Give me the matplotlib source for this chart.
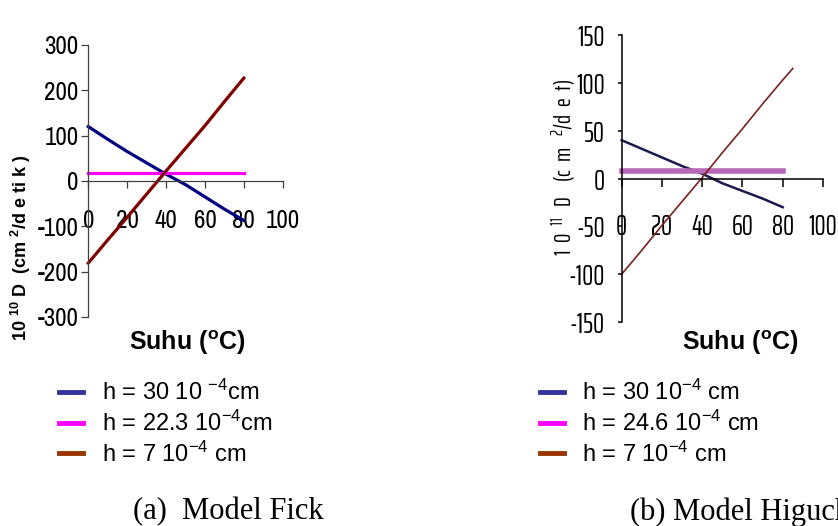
import matplotlib
matplotlib.use("Agg")
import matplotlib.pyplot as plt
from matplotlib.lines import Line2D

plt.rcParams['font.family'] = ['Liberation Sans', 'DejaVu Sans']
plt.rcParams['mathtext.fontset'] = 'custom'
plt.rcParams['mathtext.rm'] = 'Liberation Sans'
plt.rcParams['mathtext.bf'] = 'Liberation Sans:bold'
plt.rcParams['mathtext.default'] = 'regular'
plt.rcParams['axes.unicode_minus'] = False

# (a) Model Fick
suhu_a = [0, 10, 20, 30, 40, 50, 60, 70, 80]
fick_h30 = [120, 92, 65, 40, 15, -8, -35, -62, -87]
fick_h223 = [17, 17, 17, 17, 17, 17, 17, 17, 17]
fick_h7 = [-181, -130, -80, -29, 22, 72, 122, 175, 227]
labels_a = ["h = 30 10 $^{-4}$cm", "h = 22.3 10$^{-4}$cm", "h = 7 10$^{-4}$ cm"]

# (b) Model Higuchi
suhu_b = [0, 10, 20, 30, 40, 50, 60, 70, 80]
hig_h30 = [40, 31, 22, 13, 5, -5, -13, -21, -30]
hig_h246 = [8, 8, 8, 8, 8, 8, 8, 8, 8]
suhu_b7 = [0, 10, 20, 30, 40, 50, 60, 70, 80, 85]
hig_h7 = [-100, -75, -49, -24, 1, 27, 52, 78, 103, 115]
labels_b = ["h = 30 10$^{-4}$ cm", "h = 24.6 10$^{-4}$ cm", "h = 7 10$^{-4}$ cm"]

xticks = [0, 20, 40, 60, 80, 100]
yticks_a = [-300, -200, -100, 0, 100, 200, 300]
yticks_b = [-150, -100, -50, 0, 50, 100, 150]

W, H = 838, 526
fig = plt.figure(figsize=(W / 100, H / 100), dpi=100)


def px(x, y):
    return x / W, 1 - y / H


narrow = ['Archivo Narrow', 'PT Sans Narrow', 'DejaVu Sans']
squeezed = ['Saira ExtraCondensed', 'Stint Ultra Condensed', 'DejaVu Sans']


def style_axes(ax, ylim, yticks, tick_font, xpad, ylen, ypad, xlen, spine_col, spine_w):
    ax.set_xlim(0, 100)
    ax.set_ylim(*ylim)
    ax.set_xticks(xticks)
    ax.set_yticks(yticks)
    for s in ['top', 'right']:
        ax.spines[s].set_visible(False)
    ax.spines['bottom'].set_position(('data', 0))
    for s in ['left', 'bottom']:
        ax.spines[s].set_color(spine_col)
        ax.spines[s].set_linewidth(spine_w)
    ax.tick_params(axis='x', direction='out', length=xlen, pad=xpad, color=spine_col, width=spine_w)
    ax.tick_params(axis='y', direction='out', length=ylen, pad=ypad, color=spine_col, width=spine_w)
    for lab in ax.get_xticklabels() + ax.get_yticklabels():
        lab.set_fontfamily(tick_font[0])
        lab.set_fontsize(tick_font[1])
    ax.patch.set_visible(False)


# ---- left chart
axa = fig.add_axes([88.3 / W, 1 - 317 / H, 194.4 / W, 272 / H])
axa.plot(suhu_a, fick_h30, color='#000080', lw=2.3, clip_on=False)
axa.plot(suhu_a, fick_h223, color='#FF00FF', lw=2.3, clip_on=False)
axa.plot(suhu_a, fick_h7, color='#800000', lw=2.3, clip_on=False)
style_axes(axa, (-300, 300), yticks_a, (narrow, 18), 15, 5, 2, 5, '#404040', 0.9)

# ---- right chart
axb = fig.add_axes([621.7 / W, 1 - 322 / H, 201.3 / W, 287 / H])
axb.plot(suhu_b, hig_h30, color='#1a1a50', lw=1.8, clip_on=False)
axb.plot(suhu_b, hig_h246, color='#b868b8', lw=4, clip_on=False)
axb.plot(suhu_b7, hig_h7, color='#7a2020', lw=1.2, clip_on=False)
style_axes(axb, (-150, 150), yticks_b, (squeezed, 20), 19, 3, 9, 6, 'black', 1.1)

# axis titles
fig.text(*px(21, 248), "10 $^{\\mathbf{10}}$ D  (cm $^{\\mathbf{2}}$/d e ti k )",
         rotation=90, ha='center', va='center', fontsize=13, fontweight='bold')
fig.text(*px(564, 167), "1  0  $^{11}$   D    (c  m   $^{2}$/d  e  t)", family=squeezed,
         rotation=90, ha='center', va='center', fontsize=17)
fig.text(*px(187, 343), "Suhu ($^{\\mathbf{o}}$C)", ha='center', va='center',
         fontsize=18, fontweight='bold')
fig.text(*px(740, 343), "Suhu ($^{\\mathbf{o}}$C)", ha='center', va='center',
         fontsize=18, fontweight='bold')

# legends
key_cols = ['#333399', '#FF00FF', '#993300']
for labels, x0 in [(labels_a, 59), (labels_b, 540)]:
    handles = [Line2D([], [], color=c, lw=3.5) for c in key_cols]
    fig.legend(handles, labels, loc='upper left', bbox_to_anchor=px(x0, 380),
               frameon=False, fontsize=17, borderpad=0, borderaxespad=0,
               handlelength=1.0, handletextpad=0.8, labelspacing=0.23)

# captions
fig.text(*px(133, 512), "(a)  Model Fick", family=['Liberation Serif'],
         ha='left', va='center', fontsize=22)
fig.text(*px(630, 512), "(b) Model Higuchi", family=['Liberation Serif'],
         ha='left', va='center', fontsize=22)

fig.savefig("out.png", dpi=100)
